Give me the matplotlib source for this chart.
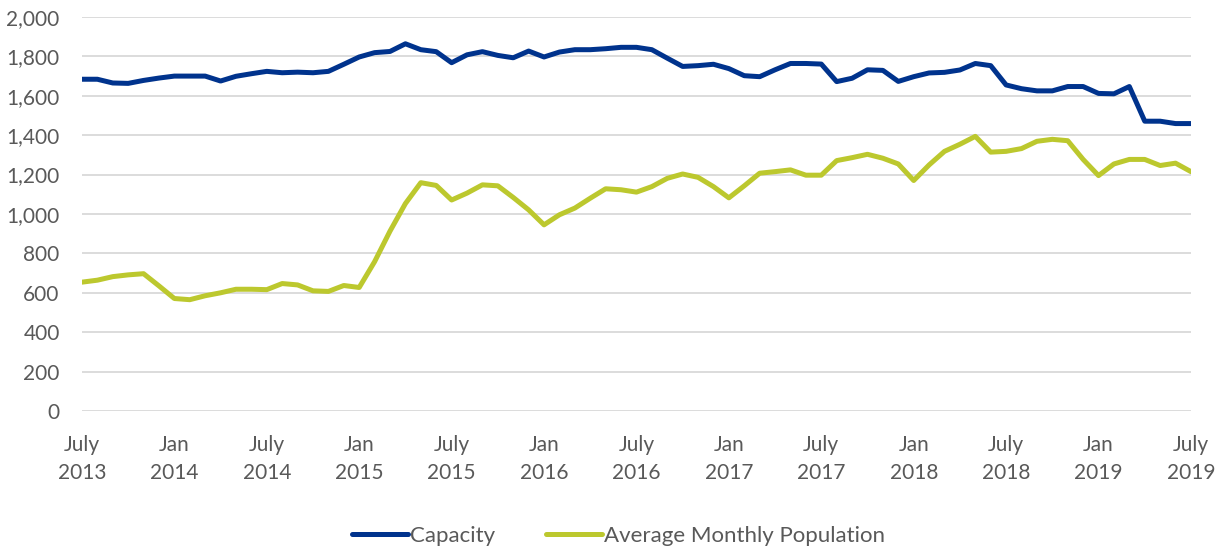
import matplotlib.pyplot as plt
import numpy as np

# Monthly values, July 2013 - July 2019
capacity = [1684, 1684, 1665, 1663, 1678, 1690, 1700, 1700, 1700, 1675, 1699, 1712,
            1724, 1717, 1720, 1717, 1724, 1760, 1797, 1819, 1825, 1864, 1834, 1824,
            1768, 1808, 1824, 1805, 1793, 1827, 1797, 1822, 1834, 1834, 1839, 1846,
            1846, 1834, 1791, 1749, 1753, 1760, 1738, 1702, 1697, 1732, 1764, 1764,
            1761, 1672, 1689, 1732, 1729, 1673, 1697, 1716, 1719, 1731, 1764, 1753,
            1655, 1636, 1625, 1625, 1647, 1647, 1612, 1610, 1647, 1471, 1471, 1459,
            1459]
population = [654, 664, 682, 691, 697, 635, 571, 565, 585, 600, 618, 618,
              616, 647, 640, 610, 607, 637, 627, 758, 913, 1053, 1159, 1145,
              1071, 1106, 1148, 1143, 1084, 1021, 945, 996, 1030, 1080, 1128, 1123,
              1111, 1139, 1181, 1203, 1186, 1139, 1082, 1143, 1207, 1215, 1224, 1197,
              1197, 1271, 1286, 1303, 1283, 1254, 1170, 1249, 1318, 1354, 1394, 1314,
              1318, 1332, 1369, 1379, 1372, 1277, 1195, 1254, 1277, 1277, 1246, 1258,
              1215]
tick_labels = ['July\n2013', 'Jan\n2014', 'July\n2014', 'Jan\n2015', 'July\n2015',
               'Jan\n2016', 'July\n2016', 'Jan\n2017', 'July\n2017', 'Jan\n2018',
               'July\n2018', 'Jan\n2019', 'July\n2019']

plt.rcParams['font.family'] = ['Lato', 'DejaVu Sans']
text_color = '#595959'

months = np.arange(len(capacity))

fig = plt.figure(figsize=(12.25, 5.48), dpi=100)
ax = fig.add_axes([0.0669, 0.25, 0.9053, 0.719])

ax.plot(months, capacity, color='#00338D', lw=3.6, solid_joinstyle='round',
        solid_capstyle='round', label='Capacity')
ax.plot(months, population, color='#BCC82E', lw=3.6, solid_joinstyle='round',
        solid_capstyle='round', label='Average Monthly Population')

ax.set_xlim(0, 72)
ax.set_ylim(0, 2000)
ax.set_yticks(range(0, 2001, 200))
ax.set_yticklabels([f'{v:,}' for v in range(0, 2001, 200)])
ax.set_xticks(range(0, 73, 6))
ax.set_xticklabels(tick_labels, linespacing=1.5)

ax.grid(axis='y', color='#d9d9d9', lw=1.3)
ax.set_axisbelow(True)
for s in ax.spines.values():
    s.set_visible(False)
ax.tick_params(axis='both', length=0, labelsize=15, colors=text_color)
ax.tick_params(axis='y', pad=16)
ax.tick_params(axis='x', pad=17)

leg = fig.legend(loc='center', bbox_to_anchor=(0.505, 0.022), ncol=2, frameon=False,
                 fontsize=16, handlelength=2.5, handletextpad=0.1, columnspacing=2.3)
for t in leg.get_texts():
    t.set_color(text_color)

fig.savefig('out.png', dpi=100)
